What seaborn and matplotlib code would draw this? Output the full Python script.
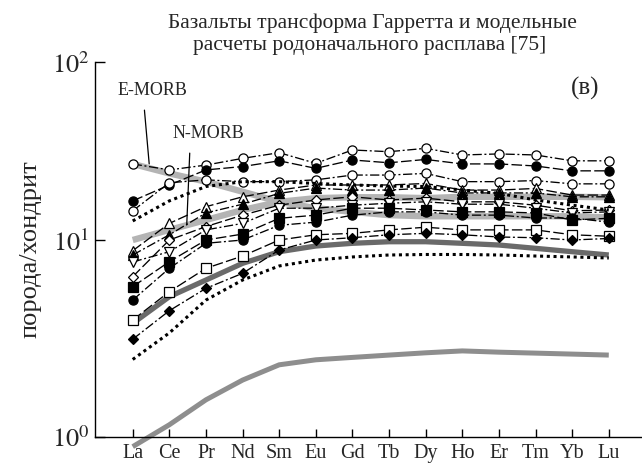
import numpy as np
import matplotlib
matplotlib.use("Agg")
import matplotlib.pyplot as plt
import seaborn as sns
from matplotlib.ticker import NullLocator

# ---------------- data (chondrite-normalised REE) ----------------
elements = ["La", "Ce", "Pr", "Nd", "Sm", "Eu", "Gd", "Tb", "Dy", "Ho", "Er", "Tm", "Yb", "Lu"]

s1_open_circle = [26.8, 24.8, 26.4, 28.8, 31.0, 27.0, 32.1, 31.4, 32.8, 30.1, 30.5, 30.1, 27.9, 27.9]
s2_filled_circle = [16.6, 20.4, 24.8, 25.9, 27.9, 25.3, 28.2, 27.2, 28.4, 26.8, 26.8, 26.1, 24.5, 24.5]
s3_open_circle = [14.6, 21.0, 21.8, 21.3, 21.3, 21.8, 23.2, 23.2, 23.7, 21.3, 21.3, 21.6, 20.7, 20.7]
s4_open_triangle = [8.82, 12.4, 15.4, 17.5, 19.1, 20.4, 20.4, 20.4, 20.8, 19.1, 19.1, 19.5, 17.9, 17.9]
s5_filled_triangle = [8.39, 10.7, 14.2, 15.9, 18.3, 19.6, 19.1, 19.1, 19.6, 18.4, 18.4, 18.4, 17.5, 17.5]
s6_open_diamond = [6.51, 10.0, 11.9, 13.8, 15.7, 16.8, 17.5, 16.8, 17.2, 16.4, 16.4, 15.7, 14.6, 14.75]
s7_open_invtriangle = [7.73, 8.72, 11.4, 12.4, 15.1, 15.1, 15.7, 16.1, 16.4, 15.9, 15.9, 15.1, 14.2, 14.4]
s8_filled_square = [5.79, 7.76, 10.0, 10.8, 13.25, 13.8, 15.1, 15.1, 14.75, 14.4, 14.4, 14.2, 12.96, 13.25]
s9_filled_circle = [4.95, 7.18, 9.62, 10.0, 12.1, 12.6, 13.8, 14.4, 14.4, 13.8, 13.8, 13.3, 13.3, 12.6]
s10_open_square = [3.92, 5.46, 7.18, 8.29, 10.0, 10.7, 10.9, 11.4, 11.8, 11.4, 11.4, 11.4, 10.7, 10.5]
s11_filled_diamond = [3.13, 4.37, 5.68, 6.77, 8.90, 10.0, 10.3, 10.7, 10.9, 10.7, 10.4, 10.3, 10.0, 10.2]

model_upper_dotted = [12.8, 16.6, 20.0, 21.3, 21.3, 20.8, 20.4, 20.1, 20.0, 19.1, 18.3, 16.8, 15.7, 14.75]
model_lower_dotted = [2.47, 3.37, 4.95, 6.26, 7.38, 7.91, 8.20, 8.39, 8.44, 8.44, 8.39, 8.29, 8.20, 8.10]
model_dark = [3.77, 5.15, 6.26, 7.61, 8.72, 9.32, 9.62, 9.80, 9.80, 9.62, 9.43, 9.07, 8.72, 8.39]
model_bottom = [0.89, 1.15, 1.54, 1.94, 2.32, 2.46, 2.53, 2.60, 2.67, 2.73, 2.69, 2.66, 2.63, 2.60]
e_morb = [26.8, 23.7, 21.3, 18.7, 16.4, 15.1, 14.4, 13.8, 13.6, 13.6, 13.6, 13.6, 13.6, 13.4]
n_morb = [10.0, 11.4, 12.96, 14.75, 16.4, 17.2, 17.4, 17.4, 17.2, 17.5, 17.5, 17.5, 17.5, 17.4]

y_ticks = [1, 10, 100]
y_ticklabels = [r"$10^0$", r"$10^1$", r"$10^2$"]

title_lines = ["Базальты трансформа Гарретта и модельные",
               "расчеты родоначального расплава [75]"]

# ---------------- style ----------------
sns.set_theme(style="ticks")
plt.rcParams["font.family"] = ["Liberation Serif", "DejaVu Serif"]
plt.rcParams["mathtext.fontset"] = "stix"

fig = plt.figure(figsize=(6.42, 4.66), dpi=100)
W, H = 642.0, 466.0
ax = fig.add_axes([95 / W, 1 - 436.7 / H, (641 - 95) / W, (436.7 - 62.3) / H])

pos = np.arange(len(elements))

# light grey reference lines and model curves (below the samples)
grey_specs = [
    (e_morb, "#b4b4b4", 4.6, "-", True),
    (n_morb, "#b4b4b4", 4.6, "-", True),
    (model_dark, "#6a6a6a", 3.8, "-", True),
    (model_bottom, "#8e8e8e", 3.6, "-", False),
]
for vals, col, lw, ls, clip in grey_specs:
    sns.lineplot(x=pos, y=vals, ax=ax, color=col, linewidth=lw, linestyle=ls,
                 estimator=None, sort=False, zorder=1.8, clip_on=clip,
                 solid_capstyle="butt")

# sample series
samples = [
    (s1_open_circle, "o", "white", (0, (7, 2, 1.5, 2))),
    (s2_filled_circle, "o", "black", (0, (8, 2.5))),
    (s3_open_circle, "o", "white", (0, (7, 2, 1.5, 2))),
    (s4_open_triangle, "^", "white", (0, (8, 2.5))),
    (s5_filled_triangle, "^", "black", (0, (7, 2, 1.5, 2))),
    (s6_open_diamond, "D", "white", (0, (8, 2.5))),
    (s7_open_invtriangle, "v", "white", (0, (7, 2, 1.5, 2))),
    (s8_filled_square, "s", "black", (0, (8, 2.5))),
    (s9_filled_circle, "o", "black", (0, (7, 2, 1.5, 2))),
    (s10_open_square, "s", "white", (0, (8, 2.5))),
    (s11_filled_diamond, "D", "black", (0, (7, 2, 1.5, 2))),
]
for vals, mk, face, ls in samples:
    ms = 5.2 if mk == "D" else 6.6
    sns.lineplot(x=pos, y=vals, ax=ax, color="black", linewidth=0.95,
                 linestyle=ls, marker=mk, markersize=ms,
                 markerfacecolor=face, markeredgecolor="black",
                 markeredgewidth=0.9, estimator=None, sort=False, zorder=2)

# dotted model lines
for vals in (model_upper_dotted, model_lower_dotted):
    sns.lineplot(x=pos, y=vals, ax=ax, color="black", linewidth=2.2,
                 linestyle=(0, (1, 1.2)), estimator=None, sort=False, zorder=2.1)

# ---------------- scale (log axis as drawn in the source figure) ----------------
K = 196.7 / 177.7


def fwd(v):
    t = np.log10(np.clip(np.asarray(v, dtype=float), 1e-9, None))
    return np.where(t >= 1, t, 1 - (1 - t) * K)


def inv(u):
    u = np.clip(np.asarray(u, dtype=float), -50, 50)
    return np.where(u >= 1, 10.0 ** u, 10.0 ** (1 - (1 - u) / K))


ax.set_yscale("function", functions=(fwd, inv))
ax.set_ylim(1, 100)
ax.set_xlim(-1.03, 13.88)

ax.set_yticks(y_ticks)
ax.set_yticklabels(y_ticklabels)
ax.yaxis.set_minor_locator(NullLocator())
ax.set_xticks(pos)
ax.set_xticklabels(elements)
ax.xaxis.set_minor_locator(NullLocator())

ax.tick_params(axis="both", direction="in", width=1.0, color="black",
               bottom=True, left=True, top=False, right=False)
ax.tick_params(axis="x", length=6, labelsize=14.5, pad=5)
ax.tick_params(axis="y", length=7, labelsize=19, pad=4)

for side in ("top", "right"):
    ax.spines[side].set_visible(False)
for side in ("left", "bottom"):
    ax.spines[side].set_color("black")
    ax.spines[side].set_linewidth(1.0)
ax.grid(False)
ax.set_xlabel("")
ax.set_ylabel("")

# ---------------- labels ----------------
ax.annotate("E-MORB", xy=(0.45, 26.8), xytext=(0.54, 69.8),
            textcoords="data", fontsize=13, ha="center", va="center",
            arrowprops=dict(arrowstyle="-", color="black", lw=0.9,
                            relpos=(0.37, 0.0), shrinkA=6, shrinkB=0))
ax.annotate("N-MORB", xy=(1.475, 12.15), xytext=(2.06, 40.0),
            textcoords="data", fontsize=13, ha="center", va="center",
            arrowprops=dict(arrowstyle="-", color="black", lw=0.9,
                            relpos=(0.25, 0.0), shrinkA=6, shrinkB=0))

fig.text(372 / W, 1 - 23.3 / H, title_lines[0], ha="center", va="center", fontsize=15.5)
fig.text(370 / W, 1 - 45.5 / H, title_lines[1], ha="center", va="center", fontsize=15.5)
fig.text(585 / W, 1 - 88 / H, "(в)", ha="center", va="center", fontsize=18)
fig.text(30 / W, 1 - 249.5 / H, "порода/хондрит", rotation=90,
         ha="center", va="center", fontsize=19)

fig.savefig("out.png", dpi=100)
